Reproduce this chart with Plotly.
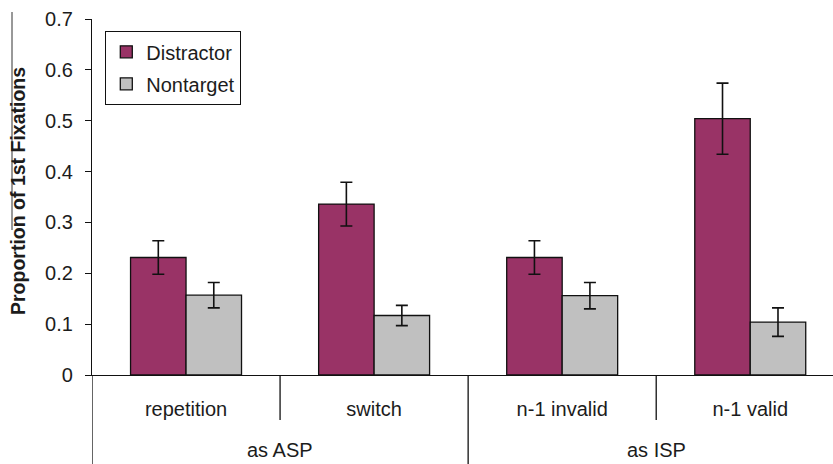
import plotly.graph_objects as go

# ---- data ----
conditions = ["repetition", "switch", "n-1 invalid", "n-1 valid"]
group_labels = ["as ASP", "as ISP"]
group_centers = [0.5, 2.5]
series_names = ["Distractor", "Nontarget"]
distractor = [0.231, 0.336, 0.231, 0.504]
distractor_err = [0.033, 0.043, 0.033, 0.070]
nontarget = [0.157, 0.117, 0.156, 0.104]
nontarget_err = [0.025, 0.020, 0.026, 0.028]
y_ticks = [0, 0.1, 0.2, 0.3, 0.4, 0.5, 0.6, 0.7]
y_tick_text = ["0", "0.1", "0.2", "0.3", "0.4", "0.5", "0.6", "0.7"]

FONT = "Liberation Sans, Arial, sans-serif"
TXT = "#1c1c1c"

fig = go.Figure()
fig.add_trace(go.Bar(
    x=conditions, y=distractor, name=series_names[0], legendgroup="a",
    marker=dict(color="#993366", line=dict(color="#111111", width=1.3)),
    error_y=dict(type="data", array=distractor_err, visible=True,
                 color="#111111", thickness=1.6, width=6),
))
fig.add_trace(go.Bar(
    x=conditions, y=nontarget, name=series_names[1], legendgroup="b",
    marker=dict(color="#C0C0C0", line=dict(color="#111111", width=1.3)),
    error_y=dict(type="data", array=nontarget_err, visible=True,
                 color="#111111", thickness=1.6, width=6),
))

W, H = 833, 464
ml, mr, mt, mb = 92, 0, 19, 89
pw, ph = W - ml - mr, H - mt - mb

def py(pix):  # pixel y -> paper y
    return (H - mb - pix) / ph

def px(pix):  # pixel x -> paper x
    return (pix - ml) / pw

shapes = []
# inner dividers (between conditions within a group)
for xv in [0.5, 2.5]:
    shapes.append(dict(type="line", xref="x", yref="paper", x0=xv, x1=xv,
                       y0=0, y1=py(420), line=dict(color="#111111", width=1.3)))
# outer dividers (between groups) incl. left edge
for xv in [-0.5, 1.5]:
    shapes.append(dict(type="line", xref="x", yref="paper", x0=xv, x1=xv,
                       y0=0, y1=py(464), line=dict(color="#111111", width=1.3)))
# thin stray line at far left top (present in reference)
shapes.append(dict(type="line", xref="paper", yref="paper", x0=px(12), x1=px(12),
                   y0=py(12), y1=py(230), line=dict(color="#333333", width=1)))

annotations = []
for lab, c in zip(group_labels, group_centers):
    annotations.append(dict(x=c, y=py(450), xref="x", yref="paper", text=lab,
                            showarrow=False, font=dict(family=FONT, size=20, color=TXT),
                            xanchor="center", yanchor="middle"))
annotations.append(dict(x=px(18), y=py(191), xref="paper", yref="paper",
                        text="<b>Proportion of 1st Fixations</b>", textangle=-90,
                        showarrow=False, font=dict(family=FONT, size=19.5, color=TXT),
                        xanchor="center", yanchor="middle"))

fig.update_layout(
    width=W, height=H,
    margin=dict(l=ml, r=mr, t=mt, b=mb, pad=0),
    paper_bgcolor="white", plot_bgcolor="white",
    barmode="group", bargap=0.41, bargroupgap=0,
    font=dict(family=FONT, size=20, color=TXT),
    showlegend=True,
    legend=dict(x=px(105), y=py(31), xanchor="left", yanchor="top",
                bgcolor="white", bordercolor="#111111", borderwidth=1.3,
                font=dict(family=FONT, size=20, color=TXT),
                tracegroupgap=3, itemwidth=30),
    xaxis=dict(type="category", range=[-0.5, 3.44], showgrid=False,
               showline=True, linecolor="#111111", linewidth=1.3,
               ticks="", ticklabelstandoff=16,
               tickfont=dict(family=FONT, size=20, color=TXT), fixedrange=True),
    yaxis=dict(range=[0, 0.7], tickvals=y_ticks, ticktext=y_tick_text,
               showgrid=False, zeroline=False, showline=True,
               linecolor="#111111", linewidth=1.3, ticks="outside", ticklen=6,
               tickcolor="#111111", tickwidth=1.3, ticklabelstandoff=8,
               tickfont=dict(family=FONT, size=20, color=TXT), fixedrange=True),
    shapes=shapes, annotations=annotations,
)

fig.write_html(
    "out.html",
    config={"displayModeBar": False},
    post_script="document.body.style.margin='0';document.body.style.padding='0';",
)
